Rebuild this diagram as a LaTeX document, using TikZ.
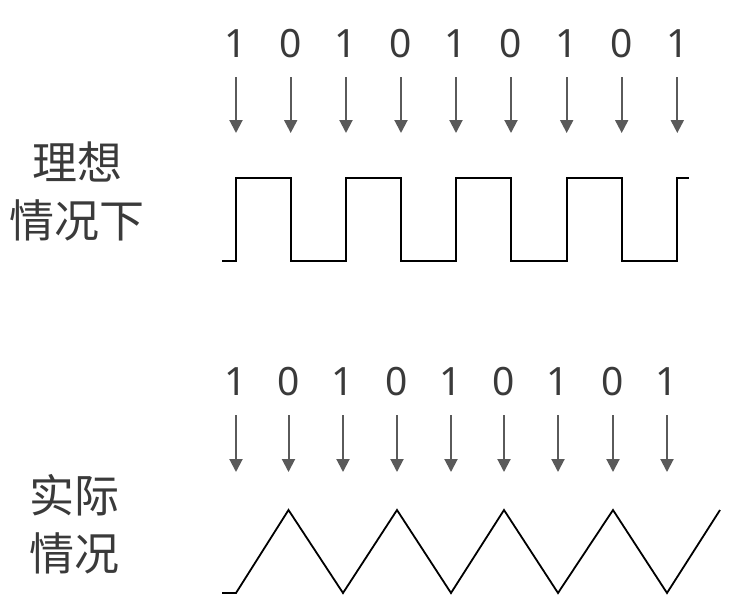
\documentclass[tikz,border=0pt]{standalone}
\usepackage{fontspec}
\setmainfont{Noto Sans}
\newfontfamily\cjk{Noto Sans CJK SC}
\usetikzlibrary{arrows.meta}
\definecolor{arrgray}{HTML}{5A5A5A}
\definecolor{txtgray}{HTML}{3A3A3A}
\tikzset{
  digit/.style={font=\fontsize{39}{39}\selectfont, text=txtgray, inner sep=0pt, anchor=center},
  bitarrow/.style={draw=arrgray, line width=2pt, -{Triangle[width=13pt,length=13pt]}, fill=arrgray},
  wave/.style={draw=black, line width=1.8pt, line join=miter},
  label/.style={font=\cjk\fontsize{45}{58}\selectfont, text=txtgray, align=center, inner sep=0pt}
}
\begin{document}
\begin{tikzpicture}[x=1pt,y=-1pt]
\useasboundingbox[fill=white] (0,0) rectangle (734,614);
% top digits
\foreach \i/\x/\b in {1/236/1,2/290.7/0,3/346/1,4/401/0,5/456/1,6/511/0,7/566.7/1,8/621.7/0,9/677.3/1}{
  \node[digit] (t\i) at (\x,44) {\b};
  \coordinate (ts\i) at (\x,77);
  \coordinate (te\i) at (\x,133);
  \draw[bitarrow] (ts\i) -- (te\i);
}
% bottom digits
\foreach \i/\x/\b in {1/236/1,2/288.5/0,3/343/1,4/397/0,5/451/1,6/504/0,7/558/1,8/613/0,9/667/1}{
  \node[digit] (b\i) at (\x,382) {\b};
  \coordinate (bs\i) at (\x,415);
  \coordinate (be\i) at (\x,472);
  \draw[bitarrow] (bs\i) -- (be\i);
}
% square wave
\draw[wave] (222,261) -- (236,261) -- (236,178) -- (290.7,178) -- (290.7,261)
  -- (346,261) -- (346,178) -- (401,178) -- (401,261) -- (456,261) -- (456,178)
  -- (511,178) -- (511,261) -- (566.7,261) -- (566.7,178) -- (621.7,178) -- (621.7,261)
  -- (677.3,261) -- (677.3,178) -- (689,178);
% triangle wave
\draw[wave] (222,593) -- (236,593) -- (288.5,510) -- (343,593) -- (397,510) -- (451,593)
  -- (504,510) -- (558,593) -- (613,510) -- (667,593) -- (720,510);
% labels
\node[label] (ideal) at (77,191) {理想\\情况下};
\node[label] (real) at (75,524) {实际\\情况};
\end{tikzpicture}
\end{document}
